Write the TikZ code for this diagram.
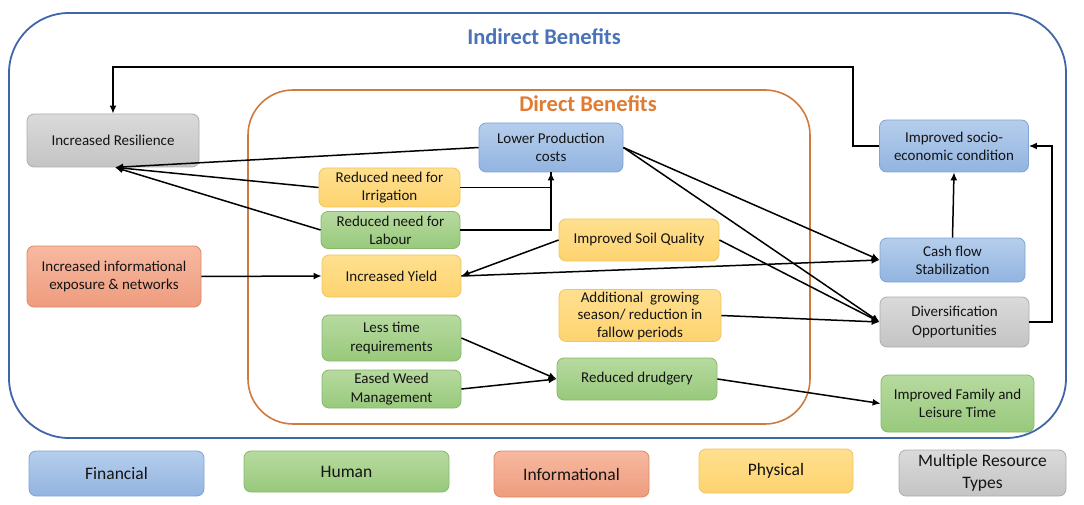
\documentclass[tikz,border=0pt]{standalone}
\usepackage{fontspec}
\setmainfont{Carlito}
\usetikzlibrary{arrows.meta}
\definecolor{outerc}{HTML}{3F66A8}
\definecolor{innerc}{HTML}{D07A3C}
\definecolor{indtxt}{HTML}{4A72B8}
\definecolor{dirtxt}{HTML}{E07B34}
\definecolor{finT}{HTML}{B6CEEC}
\definecolor{finB}{HTML}{92B4E0}
\definecolor{finD}{HTML}{7FA5D5}
\definecolor{humT}{HTML}{B7DA9F}
\definecolor{humB}{HTML}{98C97C}
\definecolor{humD}{HTML}{86B96A}
\definecolor{infT}{HTML}{F7B9A0}
\definecolor{infB}{HTML}{EE9C7E}
\definecolor{infD}{HTML}{DE8868}
\definecolor{phyT}{HTML}{FFE08F}
\definecolor{phyB}{HTML}{FDD36F}
\definecolor{phyD}{HTML}{F0C55A}
\definecolor{mulT}{HTML}{DADADA}
\definecolor{mulB}{HTML}{C4C4C4}
\definecolor{mulD}{HTML}{ADADAD}
\begin{document}
\begin{tikzpicture}[x=1pt,y=-1pt,
  box/.style={draw, rounded corners=7pt, align=center, inner sep=2pt, line width=0.8pt,
    font=\fontsize{15}{18.3}\selectfont, text=black!92},
  fin/.style={box, draw=finD, top color=finT, bottom color=finB},
  hum/.style={box, draw=humD, top color=humT, bottom color=humB},
  inf/.style={box, draw=infD, top color=infT, bottom color=infB},
  phy/.style={box, draw=phyD, top color=phyT, bottom color=phyB},
  mul/.style={box, draw=mulD, top color=mulT, bottom color=mulB},
  leg/.style={font=\fontsize{17.5}{21.5}\selectfont},
  conn/.style={draw=black, line width=1.5pt},
  arr/.style={conn, -{Latex[length=8pt,width=7pt]}}
]
\useasboundingbox (0,0) rectangle (1084,505);
% containers
\draw[outerc, line width=1.8pt, rounded corners=60pt] (9,13) rectangle (1066,438);
\draw[innerc, line width=1.6pt, rounded corners=45pt] (248,90) rectangle (810,424);
\node[font=\fontsize{22.5}{26}\selectfont\bfseries, text=indtxt] (tind) at (544,37) {Indirect Benefits};
\node[font=\fontsize{22.5}{26}\selectfont\bfseries, text=dirtxt] (tdir) at (588,104) {Direct Benefits};
% nodes
\node[mul, minimum width=172pt, minimum height=53pt] (res) at (113,140.5) {Increased Resilience};
\node[inf, minimum width=174pt, minimum height=61pt] (info) at (114,276.5) {Increased informational\\exposure \& networks};
\node[fin, minimum width=144pt, minimum height=49pt] (lpc) at (551,147.5) {Lower Production\\costs};
\node[phy, minimum width=141pt, minimum height=39pt] (irr) at (389.5,187.5) {Reduced need for\\Irrigation};
\node[hum, minimum width=139pt, minimum height=37pt] (lab) at (390.5,230) {Reduced need for\\Labour};
\node[phy, minimum width=139pt, minimum height=42pt] (yld) at (391.5,276) {Increased Yield};
\node[hum, minimum width=139pt, minimum height=46pt] (less) at (391.5,338) {Less time\\requirements};
\node[hum, minimum width=139pt, minimum height=38pt] (weed) at (391.5,389) {Eased Weed\\Management};
\node[phy, minimum width=160pt, minimum height=42pt] (soil) at (639,240) {Improved Soil Quality};
\node[phy, minimum width=162pt, minimum height=51pt, font=\fontsize{15}{17.5}\selectfont] (add) at (640,315.5) {Additional\ \ growing\\season/ reduction in\\fallow periods};
\node[hum, minimum width=160pt, minimum height=42pt] (drud) at (637,379) {Reduced drudgery};
\node[fin, minimum width=149pt, minimum height=52pt] (soc) at (954,146) {Improved socio-\\economic condition};
\node[fin, minimum width=145pt, minimum height=44pt] (cash) at (952.5,260) {Cash flow\\Stabilization};
\node[mul, minimum width=149pt, minimum height=50pt] (div) at (954.5,322) {Diversification\\Opportunities};
\node[hum, minimum width=153pt, minimum height=57pt] (fam) at (957.5,403.5) {Improved Family and\\Leisure Time};
% legend
\node[fin, leg, minimum width=175pt, minimum height=45pt] (lfin) at (116.5,473.5) {Financial};
\node[hum, leg, minimum width=205pt, minimum height=41pt] (lhum) at (346.5,471.5) {Human};
\node[inf, leg, minimum width=155pt, minimum height=46pt] (linf) at (571.5,474) {Informational};
\node[phy, leg, minimum width=154pt, minimum height=44pt] (lphy) at (776,471) {Physical};
\node[mul, leg, minimum width=167pt, minimum height=46pt] (lmul) at (982.5,473) {Multiple Resource\\Types};
% connectors
\coordinate (resin) at ([xshift=2pt]res.south);
\draw[arr] (soc.west) -- (853,146) -- (853,67) -| (res.north);
\draw[arr] (div.east) -- (1052,322) |- (soc.east);
\draw[arr] (cash.north) -- (soc.south);
\draw[arr] (lpc.west) -- (resin);
\draw[arr] (irr.west) -- (resin);
\draw[arr] (lab.west) -- (resin);
\draw[conn] (irr.east) -| (lpc.south);
\draw[arr] (lab.east) -| (lpc.south);
\draw[arr] (info.east) -- (yld.west);
\draw[arr] (soil.west) -- (yld.east);
\draw[arr] (yld.east) -- (cash.west);
\draw[arr] (lpc.east) -- (cash.west);
\draw[arr] (lpc.east) -- (div.west);
\draw[arr] (soil.east) -- (div.west);
\draw[arr] (add.east) -- (div.west);
\draw[arr] (less.east) -- (drud.west);
\draw[arr] (weed.east) -- (drud.west);
\draw[arr] (drud.east) -- (fam.west);
\end{tikzpicture}
\end{document}
